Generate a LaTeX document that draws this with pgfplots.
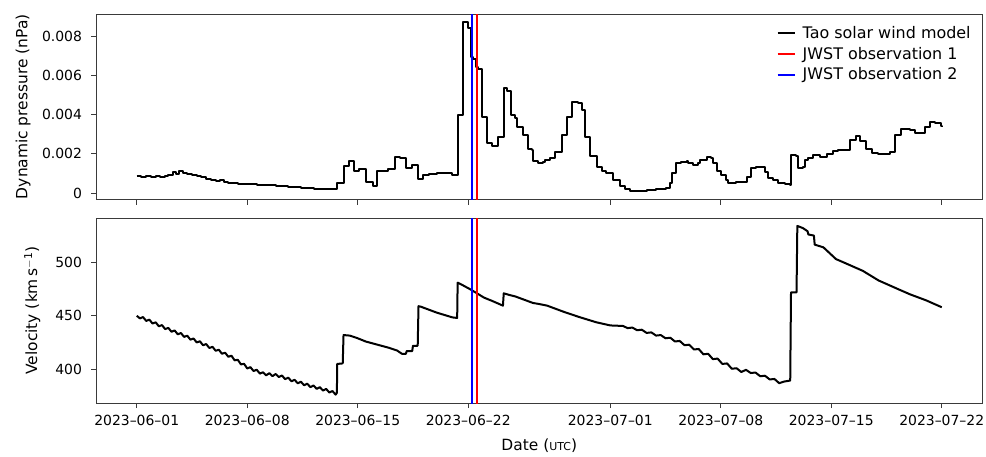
\documentclass[border=0pt]{standalone}
\usepackage{fontspec}
\setmainfont{DejaVu Sans}
\usepackage{pgfplots}
\pgfplotsset{compat=1.18}
\definecolor{axgray}{HTML}{3A3A3A}
\definecolor{obsred}{HTML}{FF0000}
\definecolor{obsblue}{HTML}{0000FF}

\pgfplotsset{
  panel/.style={
    scale only axis, width=885.5bp,
    xmin=-2.55, xmax=53.55,
    xtick={0,7,14,21,30,37,44,51},
    axis line style={axgray, line width=0.8bp},
    tick style={axgray, line width=0.8bp},
    tick align=outside, major tick length=5bp,
    xtick pos=bottom, ytick pos=left,
    ticklabel style={font=\fontsize{14}{16}\selectfont},
    yticklabel style={xshift=-6bp},
    xticklabel style={yshift=-4bp},
    label style={font=\fontsize{15.5}{18}\selectfont},
    /pgf/number format/assume math mode=true,
    scaled ticks=false,
  },
  model/.style={black, line width=2bp, line join=round},
}

\begin{document}
\begin{tikzpicture}
\path[use as bounding box] (-96.5bp,14bp) rectangle (889.5bp,-443bp);

% top panel: dynamic pressure
\begin{axis}[panel, at={(0,0)}, anchor=north west, height=185.5bp,
  ymin=-0.00033, ymax=0.00912,
  ytick={0,0.002,0.004,0.006,0.008},
  yticklabels={0,0.002,0.004,0.006,0.008},
  xticklabels={},
  ylabel={Dynamic pressure (nPa)},
  ylabel style={at={(axis description cs:-0.083,0.5)}, anchor=center},
  legend style={at={(rel axis cs:0.993,0.955)}, anchor=north east, draw=none, fill=none,
    font=\fontsize{16}{19}\selectfont, row sep=3bp},
  legend cell align=left,
  legend image code/.code={\draw[#1, line width=2bp] (0bp,0bp) -- (17bp,0bp); \path (22bp,0bp);},
]
\addplot[model, const plot] table {
0 0.00087
0.3 0.00082
0.6 0.00086
0.9 0.00081
1.2 0.00085
1.5 0.00082
1.8 0.00087
2.0 0.00092
2.3 0.00105
2.5 0.00095
2.7 0.00112
2.9 0.00100
3.2 0.00098
3.5 0.00092
3.8 0.00088
4.1 0.00080
4.4 0.00074
4.7 0.00066
5.0 0.00060
5.3 0.00064
5.5 0.00056
5.8 0.00053
6.1 0.00050
6.4 0.00048
6.7 0.00046
7.0 0.00047
7.3 0.00044
7.6 0.00042
8.0 0.00040
8.4 0.00039
8.8 0.00036
9.2 0.00034
9.6 0.00032
10.0 0.00030
10.4 0.00027
10.8 0.00025
11.2 0.00023
11.6 0.00022
12.0 0.00021
12.7 0.00053
13.1 0.00138
13.47 0.00163
13.78 0.00110
14.1 0.00121
14.52 0.00058
14.95 0.00036
15.24 0.00114
15.93 0.00120
16.36 0.00184
16.68 0.00178
17.06 0.00126
17.42 0.00144
17.84 0.00073
18.15 0.00092
18.5 0.00098
19.0 0.00104
19.6 0.00102
20.0 0.00094
20.35 0.00400
20.65 0.00869
21.0 0.00840
21.15 0.00695
21.3 0.00685
21.49 0.00644
21.62 0.00630
21.85 0.00386
22.16 0.00254
22.48 0.00239
22.9 0.00287
23.26 0.00534
23.45 0.00522
23.68 0.00398
23.96 0.00381
24.06 0.00338
24.44 0.00296
24.8 0.00224
25.01 0.00218
25.12 0.00165
25.43 0.00155
25.75 0.00160
25.86 0.00168
26.17 0.00177
26.49 0.00210
26.91 0.00296
27.23 0.00389
27.55 0.00466
27.97 0.00458
28.18 0.00423
28.39 0.00287
28.71 0.00189
29.13 0.00134
29.45 0.00114
29.76 0.00100
30.2 0.00066
30.6 0.00036
30.92 0.00019
31.24 0.00010
31.9 0.00012
32.3 0.00015
32.9 0.00020
33.5 0.00026
33.77 0.00053
33.9 0.00100
34.15 0.00151
34.5 0.00158
34.83 0.00165
34.93 0.00151
35.25 0.00143
35.57 0.00155
35.67 0.00168
36.1 0.00185
36.41 0.00180
36.52 0.00151
36.73 0.00114
37.04 0.00092
37.36 0.00066
37.47 0.00053
37.99 0.00056
38.52 0.00058
38.63 0.00083
38.94 0.00126
39.26 0.00134
39.58 0.00134
39.79 0.00109
40.0 0.00075
40.32 0.00066
40.63 0.00053
41.06 0.00046
41.37 0.00041
41.48 0.00194
41.79 0.00189
41.9 0.00126
42.22 0.00134
42.32 0.00168
42.53 0.00180
42.85 0.00194
43.27 0.00185
43.7 0.00199
44.12 0.00214
44.43 0.00220
45.17 0.00270
45.55 0.00291
45.81 0.00267
46.23 0.00223
46.55 0.00206
46.97 0.00200
47.71 0.00210
48.02 0.00296
48.44 0.00325
48.97 0.00320
49.29 0.00308
49.82 0.00304
49.92 0.00338
50.24 0.00364
50.56 0.00355
50.98 0.00342
51.0 0.00340
};
\addlegendentry{Tao solar wind model}
\addplot[obsred, line width=1.6bp] coordinates {(21.57,-0.001) (21.57,0.01)};
\addlegendentry{JWST observation 1}
\addplot[obsblue, line width=1.6bp] coordinates {(21.24,-0.001) (21.24,0.01)};
\addlegendentry{JWST observation 2}
\end{axis}

% bottom panel: velocity
\begin{axis}[panel, at={(0,-204bp)}, anchor=north west, height=185bp,
  ymin=368.5, ymax=541.4,
  ytick={400,450,500},
  xticklabels={2023--06--01,2023--06--08,2023--06--15,2023--06--22,2023--07--01,2023--07--08,2023--07--15,2023--07--22},
  ylabel={Velocity (km\,s\textsuperscript{$-$1})},
  ylabel style={at={(axis description cs:-0.0725,0.5)}, anchor=center},
  xlabel={Date ({\fontsize{11}{13}\selectfont UTC})},
  xlabel style={at={(axis description cs:0.5,-0.232)}, anchor=center},
]
\addplot[model] table {
0.0 450.0
0.2 447.6
0.4 448.8
0.6 445.2
0.8 446.4
1.0 442.8
1.2 443.9
1.4 440.2
1.6 441.3
1.8 437.6
2.0 438.7
2.2 435.1
2.4 436.3
2.6 432.7
2.8 433.9
3.0 430.3
3.2 431.4
3.4 427.7
3.6 428.8
3.8 425.1
4.0 426.2
4.2 422.5
4.4 423.6
4.6 419.9
4.8 421.0
5.0 417.3
5.2 418.3
5.4 414.5
5.6 415.5
5.8 411.7
6.0 412.7
6.2 408.4
6.4 408.9
6.6 404.6
6.8 405.1
7.0 400.8
7.2 402.0
7.4 398.4
7.6 399.6
7.8 396.0
8.0 397.2
8.2 394.4
8.4 396.4
8.6 393.6
8.8 395.6
9.0 392.8
9.2 394.2
9.4 390.8
9.6 392.2
9.8 388.8
10.0 390.2
10.2 386.9
10.4 388.4
10.6 385.1
10.8 386.6
11.0 383.3
11.2 384.9
11.4 381.7
11.6 383.3
11.8 380.1
12.0 381.7
12.2 378.3
12.4 379.7
12.6 376.3
12.68 378.0
12.7 405.0
13.05 405.5
13.1 432.0
13.5 431.5
14.0 429.0
14.5 426.0
15.0 424.0
15.5 422.0
16.0 420.0
16.5 417.5
16.8 414.5
17.05 414.5
17.1 417.0
17.45 417.0
17.5 422.0
17.8 422.0
17.85 459.0
18.0 458.5
19.0 453.0
20.0 448.5
20.3 448.0
20.33 481.0
20.6 479.0
21.1 475.0
21.5 471.5
22.0 467.0
22.5 464.0
23.2 459.5
23.25 471.0
23.6 469.5
24.0 468.0
25.1 462.0
25.5 461.0
26.0 459.5
27.0 454.0
28.0 449.0
29.1 444.0
30.0 441.0
30.8 440.5
31.1 438.5
31.4 439.0
31.7 436.5
32.0 437.0
32.3 434.0
32.6 434.5
32.9 431.5
33.2 432.0
33.5 429.0
33.8 429.5
34.1 426.0
34.4 426.5
34.7 422.5
35.0 423.0
35.3 418.5
35.6 419.0
35.9 414.0
36.2 414.5
36.5 409.5
36.8 410.0
37.1 405.0
37.4 405.5
37.7 400.5
38.0 401.0
38.3 397.5
38.6 399.5
38.9 396.5
39.2 397.0
39.5 393.5
39.8 394.0
40.1 390.5
40.4 391.0
40.7 387.0
41.0 388.5
41.4 389.5
41.45 472.0
41.8 472.0
41.85 534.0
42.2 532.0
42.5 529.0
42.55 526.0
42.9 525.0
42.95 516.5
43.5 514.0
44.3 503.0
45.0 498.5
46.0 492.0
47.0 483.0
48.3 474.5
49.0 470.0
50.0 464.5
51.0 458.0
};
\addplot[obsred, line width=1.6bp] coordinates {(21.57,300) (21.57,600)};
\addplot[obsblue, line width=1.6bp] coordinates {(21.24,300) (21.24,600)};
\end{axis}
\end{tikzpicture}
\end{document}
